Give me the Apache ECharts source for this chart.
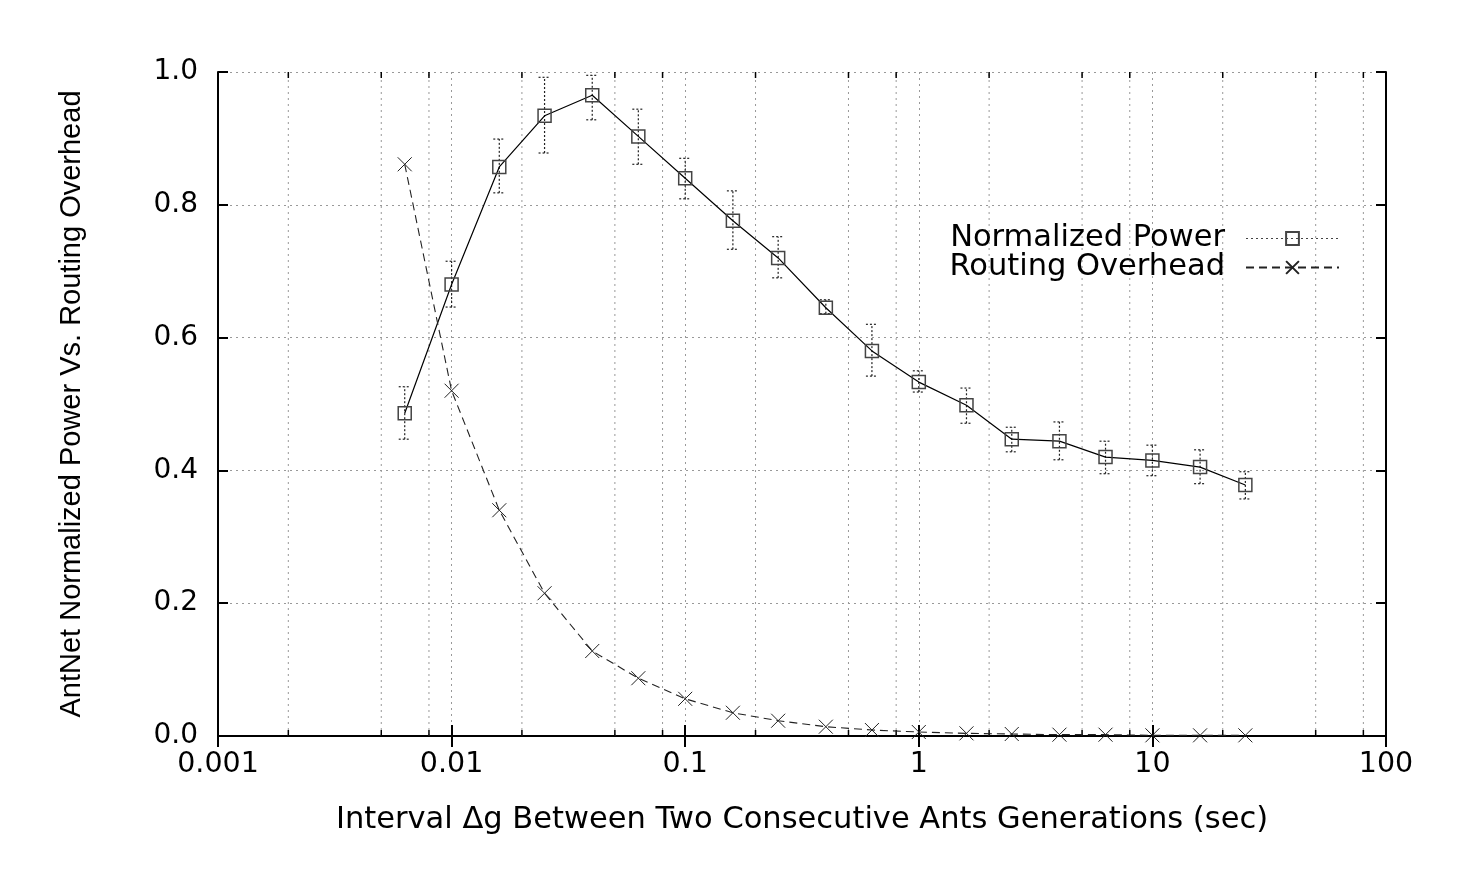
<!DOCTYPE html>
<html>
<head>
<meta charset="utf-8">
<script src="https://cdn.jsdelivr.net/npm/echarts@6/dist/echarts.min.js"></script>
<style>
html,body{margin:0;padding:0;background:#fff;}
#chart{width:1473px;height:893px;}
</style>
</head>
<body>
<div id="chart"></div>
<script>
const xValues = [0.0063, 0.01, 0.016, 0.025, 0.04, 0.063, 0.1, 0.16, 0.25, 0.4, 0.63, 1, 1.6, 2.5, 4, 6.3, 10, 16, 25];
const powerValues = [0.486, 0.680, 0.857, 0.934, 0.965, 0.903, 0.840, 0.776, 0.720, 0.645, 0.580, 0.533, 0.498, 0.447, 0.444, 0.420, 0.415, 0.405, 0.378];
const powerLow = [0.447, 0.646, 0.818, 0.878, 0.928, 0.861, 0.809, 0.733, 0.690, 0.636, 0.542, 0.518, 0.471, 0.428, 0.416, 0.395, 0.392, 0.380, 0.357];
const powerHigh = [0.526, 0.715, 0.899, 0.992, 0.995, 0.944, 0.870, 0.821, 0.752, 0.657, 0.620, 0.550, 0.524, 0.465, 0.473, 0.444, 0.438, 0.431, 0.398];
const overheadValues = [0.861, 0.520, 0.340, 0.215, 0.128, 0.087, 0.056, 0.035, 0.023, 0.014, 0.009, 0.006, 0.004, 0.003, 0.002, 0.002, 0.001, 0.001, 0.001];
const xTickLabels = ['0.001', '0.01', '0.1', '1', '10', '100'];
const minorGridValues = [0.002, 0.005, 0.008, 0.02, 0.05, 0.08, 0.2, 0.5, 0.8, 2, 5, 8, 20, 50, 80];
const seriesNames = ['Normalized Power', 'Routing Overhead'];
const xTitle = 'Interval \u0394g Between Two Consecutive Ants Generations (sec)';
const yTitle = 'AntNet Normalized Power Vs. Routing Overhead';

const chart = echarts.init(document.getElementById('chart'), null, {renderer: 'canvas'});
const hFont = 'DejaVu Sans';
const vFont = 'Liberation Sans';

function xLabel(v) {
  let best = xTickLabels[0], bd = Infinity;
  xTickLabels.forEach(l => {
    const d = Math.abs(Math.log10(Number(l)) - Math.log10(v));
    if (d < bd) { bd = d; best = l; }
  });
  return best;
}

const gridDash = [2, 4];
const axisCommonX = {
  type: 'log', logBase: 10, min: 0.001, max: 100,
  axisLine: {show: true, lineStyle: {color: '#000', width: 2}},
  axisTick: {show: true, inside: true, length: 11, lineStyle: {color: '#000', width: 2}},
};
const axisCommonY = {
  type: 'value', min: 0, max: 1, interval: 0.2,
  axisLine: {show: true, lineStyle: {color: '#000', width: 2}},
  axisTick: {show: true, inside: true, length: 10, lineStyle: {color: '#000', width: 2}},
};

const option = {
  animation: false,
  backgroundColor: '#fff',
  grid: {left: 218, right: 87, top: 72, bottom: 157, containLabel: false},
  legend: {
    orient: 'vertical',
    right: 128,
    top: 218,
    align: 'right',
    itemWidth: 93,
    itemHeight: 16,
    itemGap: -2,
    textStyle: {fontFamily: hFont, fontSize: 30.5, lineHeight: 29, color: '#000', padding: [0, 16, 0, 0]},
    data: [
      {name: seriesNames[0], lineStyle: {type: [2, 3], color: '#444', width: 1}},
      {name: seriesNames[1]}
    ]
  },
  xAxis: [
    Object.assign({}, axisCommonX, {
      position: 'bottom',
      name: xTitle,
      nameLocation: 'middle',
      nameGap: 69,
      nameTextStyle: {fontFamily: hFont, fontSize: 30.5, color: '#000'},
      axisLabel: {fontFamily: hFont, fontSize: 28.5, color: '#000', margin: 14, formatter: xLabel},
      splitLine: {show: true, lineStyle: {color: '#999', width: 1, type: gridDash}}
    }),
    Object.assign({}, axisCommonX, {
      position: 'top',
      axisLabel: {show: false},
      splitLine: {show: false}
    })
  ],
  yAxis: [
    Object.assign({}, axisCommonY, {
      position: 'left',
      name: yTitle,
      nameLocation: 'middle',
      nameGap: 132,
      nameTextStyle: {fontFamily: vFont, fontSize: 29, color: '#000'},
      axisLabel: {fontFamily: hFont, fontSize: 28, color: '#000', margin: 20, formatter: v => v.toFixed(1)},
      splitLine: {show: true, lineStyle: {color: '#999', width: 1, type: gridDash}}
    }),
    Object.assign({}, axisCommonY, {
      position: 'right',
      axisLabel: {show: false},
      splitLine: {show: false}
    })
  ],
  series: [
    {
      name: 'minorGrid',
      type: 'custom',
      silent: true,
      z: 1,
      data: minorGridValues.map(v => [v, 0]),
      renderItem: function (params, api) {
        const x = api.value(0);
        const b = api.coord([x, 0]);
        const t = api.coord([x, 1]);
        return {
          type: 'group',
          children: [
            {type: 'line', shape: {x1: b[0], y1: b[1], x2: t[0], y2: t[1]},
             style: {stroke: '#999', lineWidth: 1, lineDash: gridDash}},
            {type: 'line', shape: {x1: b[0], y1: b[1], x2: b[0], y2: b[1] - 6},
             style: {stroke: '#000', lineWidth: 1.5}},
            {type: 'line', shape: {x1: t[0], y1: t[1], x2: t[0], y2: t[1] + 6},
             style: {stroke: '#000', lineWidth: 1.5}}
          ]
        };
      }
    },
    {
      name: 'errorBars',
      type: 'custom',
      silent: true,
      z: 2,
      data: xValues.map((x, i) => [x, powerLow[i], powerHigh[i]]),
      renderItem: function (params, api) {
        const x = api.value(0);
        const lo = api.coord([x, api.value(1)]);
        const hi = api.coord([x, api.value(2)]);
        const w = 6;
        const st = {stroke: '#222', lineWidth: 1.2, lineDash: [2, 2]};
        return {
          type: 'group',
          children: [
            {type: 'line', shape: {x1: lo[0], y1: lo[1], x2: hi[0], y2: hi[1]}, style: st},
            {type: 'line', shape: {x1: lo[0] - w, y1: lo[1], x2: lo[0] + w, y2: lo[1]}, style: st},
            {type: 'line', shape: {x1: hi[0] - w, y1: hi[1], x2: hi[0] + w, y2: hi[1]}, style: st}
          ]
        };
      }
    },
    {
      name: seriesNames[0],
      type: 'line',
      z: 3,
      data: xValues.map((x, i) => [x, powerValues[i]]),
      symbol: 'rect',
      symbolSize: 13,
      showAllSymbol: true,
      lineStyle: {color: '#000', width: 1.2},
      itemStyle: {color: 'rgba(255,255,255,0)', borderColor: '#444', borderWidth: 1.5}
    },
    {
      name: seriesNames[1],
      type: 'line',
      z: 3,
      data: xValues.map((x, i) => [x, overheadValues[i]]),
      symbol: 'path://M0 0L10 10M10 0L0 10',
      symbolSize: 14,
      showAllSymbol: true,
      lineStyle: {color: '#222', width: 1.1, type: [8, 5]},
      itemStyle: {color: 'rgba(255,255,255,0)', borderColor: '#222', borderWidth: 1}
    }
  ]
};
chart.setOption(option);
</script>
</body>
</html>
